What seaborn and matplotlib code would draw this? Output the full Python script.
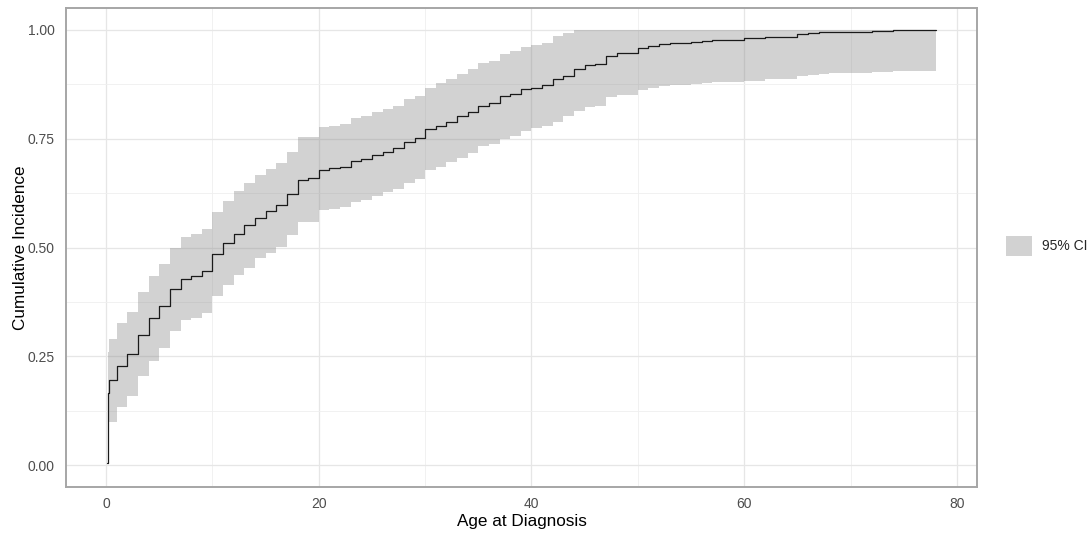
import numpy as np
import pandas as pd
import matplotlib
matplotlib.use("Agg")
import matplotlib.pyplot as plt
from matplotlib.patches import Patch
from matplotlib.ticker import MultipleLocator
import seaborn as sns

# Cumulative incidence estimate by age at diagnosis, with 95% confidence limits
age = [0.12, 0.13, 0.22, 0.30, 1, 2, 3, 4, 5, 6, 7, 8, 9, 10, 11, 12, 13, 14,
       15, 16, 17, 18, 19, 20, 21, 22, 23, 24, 25, 26, 27, 28, 29, 30, 31, 32,
       33, 34, 35, 36, 37, 38, 39, 40, 41, 42, 43, 44, 45, 46, 47, 48, 50, 51,
       52, 53, 55, 56, 57, 60, 62, 65, 66, 67, 68, 72, 74, 78]
incidence = [0.005, 0.110, 0.165, 0.195, 0.228, 0.255, 0.300, 0.338, 0.366,
             0.405, 0.427, 0.434, 0.446, 0.484, 0.511, 0.531, 0.551, 0.567,
             0.584, 0.597, 0.624, 0.655, 0.659, 0.678, 0.682, 0.686, 0.699,
             0.703, 0.713, 0.719, 0.729, 0.743, 0.751, 0.772, 0.780, 0.789,
             0.803, 0.812, 0.825, 0.831, 0.847, 0.852, 0.863, 0.867, 0.874,
             0.887, 0.894, 0.909, 0.918, 0.922, 0.939, 0.946, 0.957, 0.962,
             0.967, 0.969, 0.973, 0.975, 0.977, 0.981, 0.983, 0.990, 0.992,
             0.994, 0.996, 0.997, 1.000, 1.000]
ci_lower = [0.005, 0.050, 0.085, 0.100, 0.134, 0.159, 0.205, 0.240, 0.270,
            0.308, 0.333, 0.337, 0.350, 0.389, 0.415, 0.437, 0.454, 0.475,
            0.488, 0.501, 0.529, 0.559, 0.559, 0.585, 0.589, 0.592, 0.604,
            0.609, 0.619, 0.627, 0.634, 0.649, 0.657, 0.677, 0.686, 0.696,
            0.706, 0.716, 0.734, 0.737, 0.749, 0.756, 0.768, 0.774, 0.778,
            0.789, 0.801, 0.813, 0.822, 0.825, 0.845, 0.850, 0.862, 0.866,
            0.871, 0.874, 0.876, 0.877, 0.879, 0.883, 0.887, 0.893, 0.895,
            0.898, 0.900, 0.902, 0.905, 0.905]
ci_upper = [0.005, 0.215, 0.260, 0.291, 0.327, 0.351, 0.398, 0.434, 0.461,
            0.500, 0.525, 0.530, 0.543, 0.582, 0.607, 0.629, 0.648, 0.666,
            0.680, 0.695, 0.720, 0.753, 0.753, 0.776, 0.779, 0.783, 0.797,
            0.802, 0.811, 0.818, 0.824, 0.842, 0.849, 0.867, 0.877, 0.887,
            0.899, 0.911, 0.923, 0.929, 0.945, 0.952, 0.960, 0.966, 0.969,
            0.986, 0.992, 1.000, 1.000, 1.000, 1.000, 1.000, 1.000, 1.000,
            1.000, 1.000, 1.000, 1.000, 1.000, 1.000, 1.000, 1.000, 1.000,
            1.000, 1.000, 1.000, 1.000, 1.000]

x_ticks = [0, 20, 40, 60, 80]
y_ticks = [0.00, 0.25, 0.50, 0.75, 1.00]

df = pd.DataFrame({"age": age, "incidence": incidence,
                   "lower": ci_lower, "upper": ci_upper})

sns.set_theme(style="white")
plt.rcParams["font.family"] = ["Liberation Sans", "DejaVu Sans"]

fig = plt.figure(figsize=(10.91, 5.35), dpi=100)
ax = fig.add_axes([66 / 1091, 1 - 487 / 535, (977 - 66) / 1091, (487 - 8) / 535])

band_color = "#7f7f7f"
ax.fill_between(df["age"], df["lower"], df["upper"], step="post",
                color=band_color, alpha=0.35, linewidth=0, zorder=2)
sns.lineplot(data=df, x="age", y="incidence", drawstyle="steps-post",
             color="#1a1a1a", linewidth=0.9, ax=ax, zorder=3)

# axis limits with ggplot-style 5% expansion
xmin, xmax = min(age), max(age)
xpad = (xmax - xmin) * 0.05
ax.set_xlim(xmin - xpad, xmax + xpad)
ax.set_ylim(-0.05, 1.05)

ax.set_xticks(x_ticks)
ax.set_yticks(y_ticks)
ax.set_yticklabels([f"{v:.2f}" for v in y_ticks])
ax.xaxis.set_minor_locator(MultipleLocator(10))
ax.yaxis.set_minor_locator(MultipleLocator(0.125))
ax.grid(which="major", color="#e6e6e6", linewidth=0.9, zorder=0)
ax.grid(which="minor", color="#efefef", linewidth=0.6, zorder=0)
ax.set_axisbelow(True)
ax.tick_params(which="both", length=0, labelsize=10, labelcolor="#4d4d4d")
ax.tick_params(axis="x", pad=7.5)
ax.tick_params(axis="y", pad=8)

for spine in ax.spines.values():
    spine.set_visible(True)
    spine.set_color("#a6a6a6")
    spine.set_linewidth(1.4)

ax.set_xlabel("Age at Diagnosis", fontsize=12.3, color="black", labelpad=2)
ax.set_ylabel("Cumulative Incidence", fontsize=12.3, color="black", labelpad=0)

handle = Patch(facecolor=band_color, alpha=0.35, edgecolor="none", label="95% CI")
fig.legend(handles=[handle], loc="center left", bbox_to_anchor=(1006 / 1091, 1 - 246 / 535),
           frameon=False, fontsize=10, handlelength=1.9, handleheight=1.9,
           handletextpad=0.7, borderaxespad=0, borderpad=0)

fig.savefig("out.png", dpi=100)
